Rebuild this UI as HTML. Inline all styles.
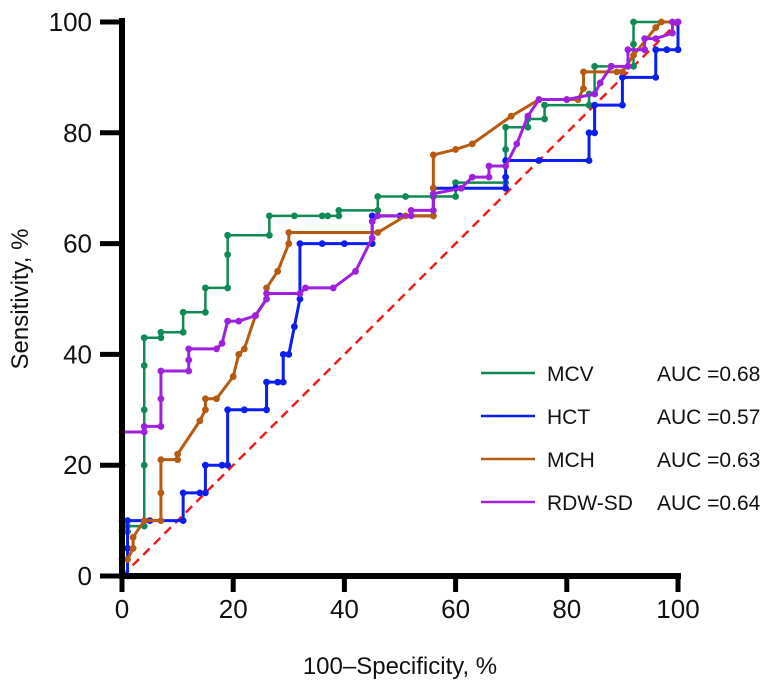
<!DOCTYPE html>
<html><head><meta charset="utf-8"><style>
html,body{margin:0;padding:0;background:#fff}
svg{display:block;font-family:"Liberation Sans",Arial,sans-serif}
</style></head><body>
<svg id="chart" width="768" height="688" viewBox="0 0 768 688">
<g id="plot"></g>
<g id="axes"></g>
<g id="legend"></g>
<text x="400" y="674" text-anchor="middle" font-size="24" fill="#111">100–Specificity, %</text>
<text x="0" y="0" transform="translate(28,299) rotate(-90)" text-anchor="middle" font-size="24" fill="#111">Sensitivity, %</text>
</svg>
<script>
const xTicks=[0,20,40,60,80,100];
const yTicks=[0,20,40,60,80,100];
const seriesNames=["MCV","HCT","MCH","RDW-SD"];
const aucLabels=["AUC =0.68","AUC =0.57","AUC =0.63","AUC =0.64"];
const colors=["#108a55","#0a1fef","#b85a10","#a020e0"];
const mcvX=[0,0,1,1,4,4,4,4,4,4,7,7,11,11,15,15,19,19,19,26.5,26.5,31,36,37,39,39,46,46,51,56,56,60,60,69,69,69,73,73,76,76,84,84,85,85,88,92,92,92,100];
const mcvY=[0,8,8,9,9,20,30,38,43,43,43,44,44,47.6,47.6,52,52,58,61.5,61.5,65,65,65,65,65,66,66,68.5,68.5,68.5,68.5,68.5,71,71,77,81,81,82.5,82.5,85,85,87,87,92,92,92,96,100,100];
const hctX=[0,1,1,1,5,11,11,14,15,15,18,19,19,22,26,26,28,29,29,30,31,32,32,36,40,45,45,50,56,56,60,69,69,69,75,84,84,85,85,90,90,96,96,98,100,100];
const hctY=[0,0,5,10,10,10,15,15,15,20,20,20,30,30,30,35,35,35,40,40,45,50,60,60,60,60,65,65,65,70,70,70,72,75,75,75,80,80,85,85,90,90,95,95,95,100];
const mchX=[0,0,1,2,2,4,7,7,7,10,10,14,15,15,17,20,21,22,24,26,26,28,30,30,46,51,56,56,56,60,63,70,75,80,82,83,83,89,90,92,96,97,100];
const mchY=[0,3,3,5,7,10,10,15,21,21,22,28,30,32,32,36,40,41,47,50,52,55,60,62,62,65,65,70,76,77,78,83,86,86,86,88,91,91,91,94,99,100,100];
const rdwX=[0,0,0,0,4,4,7,7,7,12,12,12,17,18,19,21,24,26,26,32,33,38,42,45,45,46,52,52,56,56,61,63,66,66,69,71,73,75,80,85,86,88,91,91,94,94,96,99,99,100];
const rdwY=[0,10,20,26,26,27,27,32,37,37,39,41,41,42,46,46,47,50,51,51,52,52,55,61,64,65,65,66,66,69,70,72,72,74,74,78,83,86,86,87,89,92,92,95,95,97,97,98,100,100];
const NS="http://www.w3.org/2000/svg";
const X0=122,X1=678,Y0=576,Y1=22;
function sx(v){return X0+(X1-X0)*v/100;}
function sy(v){return Y0-(Y0-Y1)*v/100;}
function mk(tag,attrs,parent){const e=document.createElementNS(NS,tag);for(const k in attrs)e.setAttribute(k,attrs[k]);parent.appendChild(e);return e;}
const plot=document.getElementById('plot'),axes=document.getElementById('axes'),legend=document.getElementById('legend');
const diag=mk('line',{x1:sx(0),y1:sy(0),x2:sx(100),y2:sy(100),stroke:'#f21b1b','stroke-width':2.5,'stroke-dasharray':'9,6'},plot);


const allX=[mcvX,hctX,mchX,rdwX],allY=[mcvY,hctY,mchY,rdwY];
const keys=['mcv','hct','mch','rdw-sd'];
for(let s=0;s<4;s++){
 const g=mk('g',{},plot);
 
 
 const pts=allX[s].map((x,i)=>sx(x)+','+sy(allY[s][i])).join(' ');
 const pl=mk('polyline',{points:pts,fill:'none',stroke:colors[s],'stroke-width':s===0?2.5:3,'stroke-linejoin':'round'},g);
 
 
 for(let i=0;i<allX[s].length;i++){
  const c=mk('circle',{cx:sx(allX[s][i]),cy:sy(allY[s][i]),r:3.4,fill:colors[s]},g);
  
  
 }
}
const ya=mk('line',{x1:X0,y1:18,x2:X0,y2:Y0+3,stroke:'#000','stroke-width':6},axes);


const xa=mk('line',{x1:X0-3,y1:Y0,x2:X1+3,y2:Y0,stroke:'#000','stroke-width':6},axes);


yTicks.forEach(v=>{
 const t=mk('line',{x1:X0-22,y1:sy(v),x2:X0,y2:sy(v),stroke:'#000','stroke-width':5},axes);
 
 
 const l=mk('text',{x:92,y:sy(v)+9,'text-anchor':'end','font-size':26,fill:'#111'},axes);
 l.textContent=v;
 
 
});
xTicks.forEach(v=>{
 const t=mk('line',{x1:sx(v),y1:Y0,x2:sx(v),y2:Y0+16,stroke:'#000','stroke-width':5},axes);
 
 
 const l=mk('text',{x:sx(v),y:Y0+42,'text-anchor':'middle','font-size':26,fill:'#111'},axes);
 l.textContent=v;
 
 
});
for(let s=0;s<4;s++){
 const y=373+s*43;
 const g=mk('g',{},legend);
 
 
 mk('line',{x1:481,y1:y,x2:535,y2:y,stroke:colors[s],'stroke-width':2.5},g);
 const a=mk('text',{x:547,y:y+8,'font-size':21,fill:'#111'},g);
 a.textContent=seriesNames[s];
 const b=mk('text',{x:657,y:y+8,'font-size':21,fill:'#111'},g);
 b.textContent=aucLabels[s];
}
</script>
</body></html>
